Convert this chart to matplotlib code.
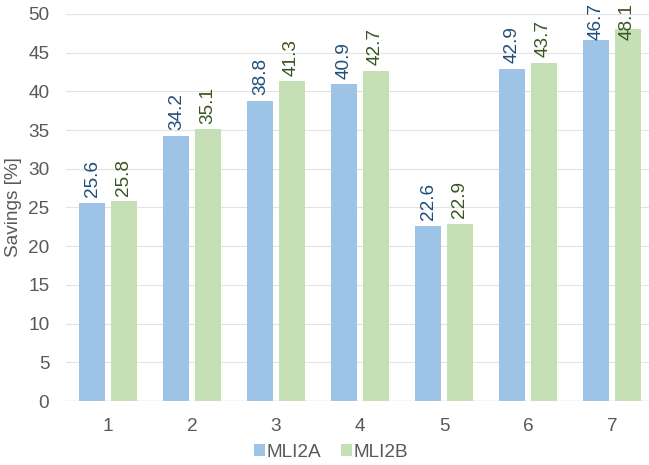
import matplotlib
matplotlib.use("Agg")
import matplotlib.pyplot as plt
import numpy as np

# bar values
categories = ["1", "2", "3", "4", "5", "6", "7"]
mli2a = [25.6, 34.2, 38.8, 40.9, 22.6, 42.9, 46.7]
mli2b = [25.8, 35.1, 41.3, 42.7, 22.9, 43.7, 48.1]

plt.rcParams['font.family'] = ['Liberation Sans', 'DejaVu Sans']
fs = 13.7

fig = plt.figure(figsize=(6.49, 4.65), dpi=100)
# plot area runs a bit past the right edge, like the reference crop
ax = fig.add_axes([66/649, 1 - 401/465, 588/649, 387/465])

x = np.arange(len(categories))
w = 0.31
off = 0.185
b1 = ax.bar(x - off, mli2a, w, color='#9DC3E6', label='MLI2A', zorder=2)
b2 = ax.bar(x + off, mli2b, w, color='#C5E0B4', label='MLI2B', zorder=2)

# labels sit just above the bar, pushed down when they would leave the picture
top_limit = 51.4
lab_len = 4.8
for bars, vals, col in [(b1, mli2a, '#1F4E79'), (b2, mli2b, '#375623')]:
    for r, v in zip(bars, vals):
        xc = r.get_x() + r.get_width()/2
        if v + 0.75 + lab_len > top_limit:
            ax.text(xc, top_limit, f"{v:.1f}", rotation=90, ha='center', va='top',
                    color=col, fontsize=fs, zorder=3)
        else:
            ax.text(xc, v + 0.75, f"{v:.1f}", rotation=90, ha='center', va='bottom',
                    color=col, fontsize=fs, zorder=3)

ax.set_xlim(-0.5, len(categories) - 0.5)
ax.set_ylim(0, 50)
ax.set_yticks(range(0, 51, 5))
ax.set_xticks(x)
ax.set_xticklabels(categories)
ax.tick_params(axis='both', length=0, labelsize=fs, colors='#595959', pad=12)
ax.yaxis.grid(True, color='#E3E3E3', linewidth=0.8, zorder=0)
for s in ax.spines.values():
    s.set_visible(False)
ax.axhline(0, color='#D9D9D9', linewidth=1, zorder=1)
ax.set_ylabel('Savings [%]', fontsize=fs, color='#595959')
ax.yaxis.set_label_coords(-0.075, 0.5)

fig.legend(handles=[b1, b2], loc='center', bbox_to_anchor=(331/649, 1 - 452/465),
           ncol=2, frameon=False, fontsize=fs, handlelength=0.6, handleheight=0.6,
           handletextpad=0.1, columnspacing=1.0, labelcolor='#595959',
           borderpad=0, borderaxespad=0)

fig.savefig('out.png', dpi=100)
